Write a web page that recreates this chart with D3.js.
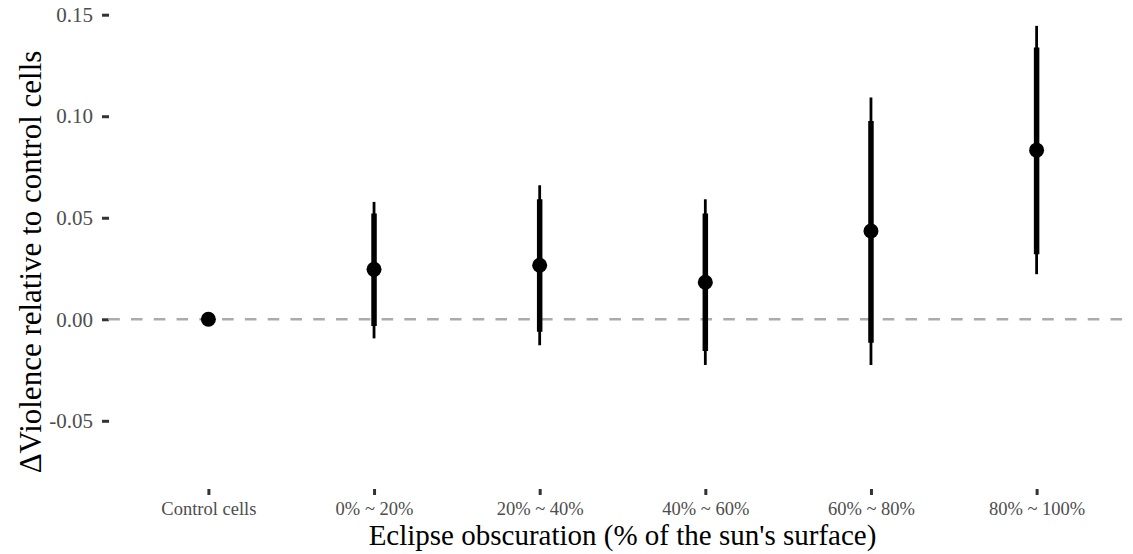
<!DOCTYPE html>
<html>
<head>
<meta charset="utf-8">
<script src="https://cdn.jsdelivr.net/npm/d3@7"></script>
<style>
  body { margin: 0; background: #fff; }
  svg { display: block; font-family: "Liberation Serif", "Times New Roman", serif; }
</style>
</head>
<body>
<div id="chart"></div>
<script>
// categories and estimates
var categories = ["Control cells", "0% ~ 20%", "20% ~ 40%", "40% ~ 60%", "60% ~ 80%", "80% ~ 100%"];
var estimate = [0, 0.0246, 0.0266, 0.0182, 0.0435, 0.0833];
// inner (thick) interval
var lowInner  = [0, -0.0033, -0.0062, -0.0156, -0.0115, 0.0320];
var highInner = [0, 0.0521, 0.0591, 0.0521, 0.0977, 0.1338];
// outer (thin) interval
var lowOuter  = [0, -0.0094, -0.0128, -0.0225, -0.0225, 0.0222];
var highOuter = [0, 0.0578, 0.0660, 0.0591, 0.1092, 0.1445];
var yTicks = [-0.05, 0, 0.05, 0.10, 0.15];

var width = 1133, height = 554;
var panel = {left: 109, right: 1136, top: 0, bottom: 489};

var svg = d3.select("#chart").append("svg")
    .attr("width", width)
    .attr("height", height)
    .style("background", "#fff");

var x = d3.scalePoint()
    .domain(categories)
    .range([panel.left, panel.right])
    .padding(0.6);

var y = d3.scaleLinear()
    .domain([-0.05, 0.15])
    .range([420.8, 14.7]);

var data = categories.map(function(c, i) {
  return {cat: c, est: estimate[i], lo1: lowInner[i], hi1: highInner[i], lo2: lowOuter[i], hi2: highOuter[i]};
});

// y axis
var fmt = d3.format(".2f");
var yAxis = svg.append("g")
    .attr("transform", "translate(" + panel.left + ",0)")
    .call(d3.axisLeft(y)
      .tickValues(yTicks)
      .tickSize(7)
      .tickPadding(9)
      .tickFormat(function(d) { return fmt(d).replace("\u2212", "-"); }));
yAxis.select(".domain").remove();
yAxis.selectAll("line").attr("stroke", "#333").attr("stroke-width", 3);
yAxis.selectAll("text")
    .style("font-family", "'Liberation Serif', 'Times New Roman', serif")
    .style("font-size", "21px")
    .attr("fill", "#4d4d4d");

// x axis
var xAxis = svg.append("g")
    .attr("transform", "translate(0," + panel.bottom + ")")
    .call(d3.axisBottom(x).tickSize(6).tickPadding(7));
xAxis.select(".domain").remove();
xAxis.selectAll("line").attr("stroke", "#333").attr("stroke-width", 3);
xAxis.selectAll("text")
    .style("font-family", "'Liberation Serif', 'Times New Roman', serif")
    .style("font-size", "18.5px")
    .attr("fill", "#4d4d4d");

// reference line at zero
svg.append("line")
    .attr("x1", 108.2)
    .attr("x2", panel.right)
    .attr("y1", y(0))
    .attr("y2", y(0))
    .attr("stroke", "#ababab")
    .attr("stroke-width", 2.5)
    .attr("stroke-dasharray", "11.6,11.18");

// outer intervals
svg.selectAll(".outer")
    .data(data)
    .enter().append("line")
    .attr("class", "outer")
    .attr("x1", function(d) { return x(d.cat); })
    .attr("x2", function(d) { return x(d.cat); })
    .attr("y1", function(d) { return y(d.lo2); })
    .attr("y2", function(d) { return y(d.hi2); })
    .attr("stroke", "#000")
    .attr("stroke-width", 2.8);

// inner intervals
svg.selectAll(".inner")
    .data(data)
    .enter().append("line")
    .attr("class", "inner")
    .attr("x1", function(d) { return x(d.cat); })
    .attr("x2", function(d) { return x(d.cat); })
    .attr("y1", function(d) { return y(d.lo1); })
    .attr("y2", function(d) { return y(d.hi1); })
    .attr("stroke", "#000")
    .attr("stroke-width", 5.5);

// point estimates
svg.selectAll(".dot")
    .data(data)
    .enter().append("circle")
    .attr("class", "dot")
    .attr("cx", function(d) { return x(d.cat); })
    .attr("cy", function(d) { return y(d.est); })
    .attr("r", 7.5)
    .attr("fill", "#000");

// axis titles
svg.append("text")
    .attr("x", (panel.left + panel.right) / 2)
    .attr("y", 545)
    .attr("text-anchor", "middle")
    .style("font-size", "29px")
    .attr("fill", "#000")
    .text("Eclipse obscuration (% of the sun's surface)");

svg.append("text")
    .attr("transform", "translate(41,262)rotate(-90)")
    .attr("text-anchor", "middle")
    .style("font-size", "31px")
    .attr("fill", "#000")
    .text("\u0394Violence relative to control cells");
</script>
</body>
</html>
